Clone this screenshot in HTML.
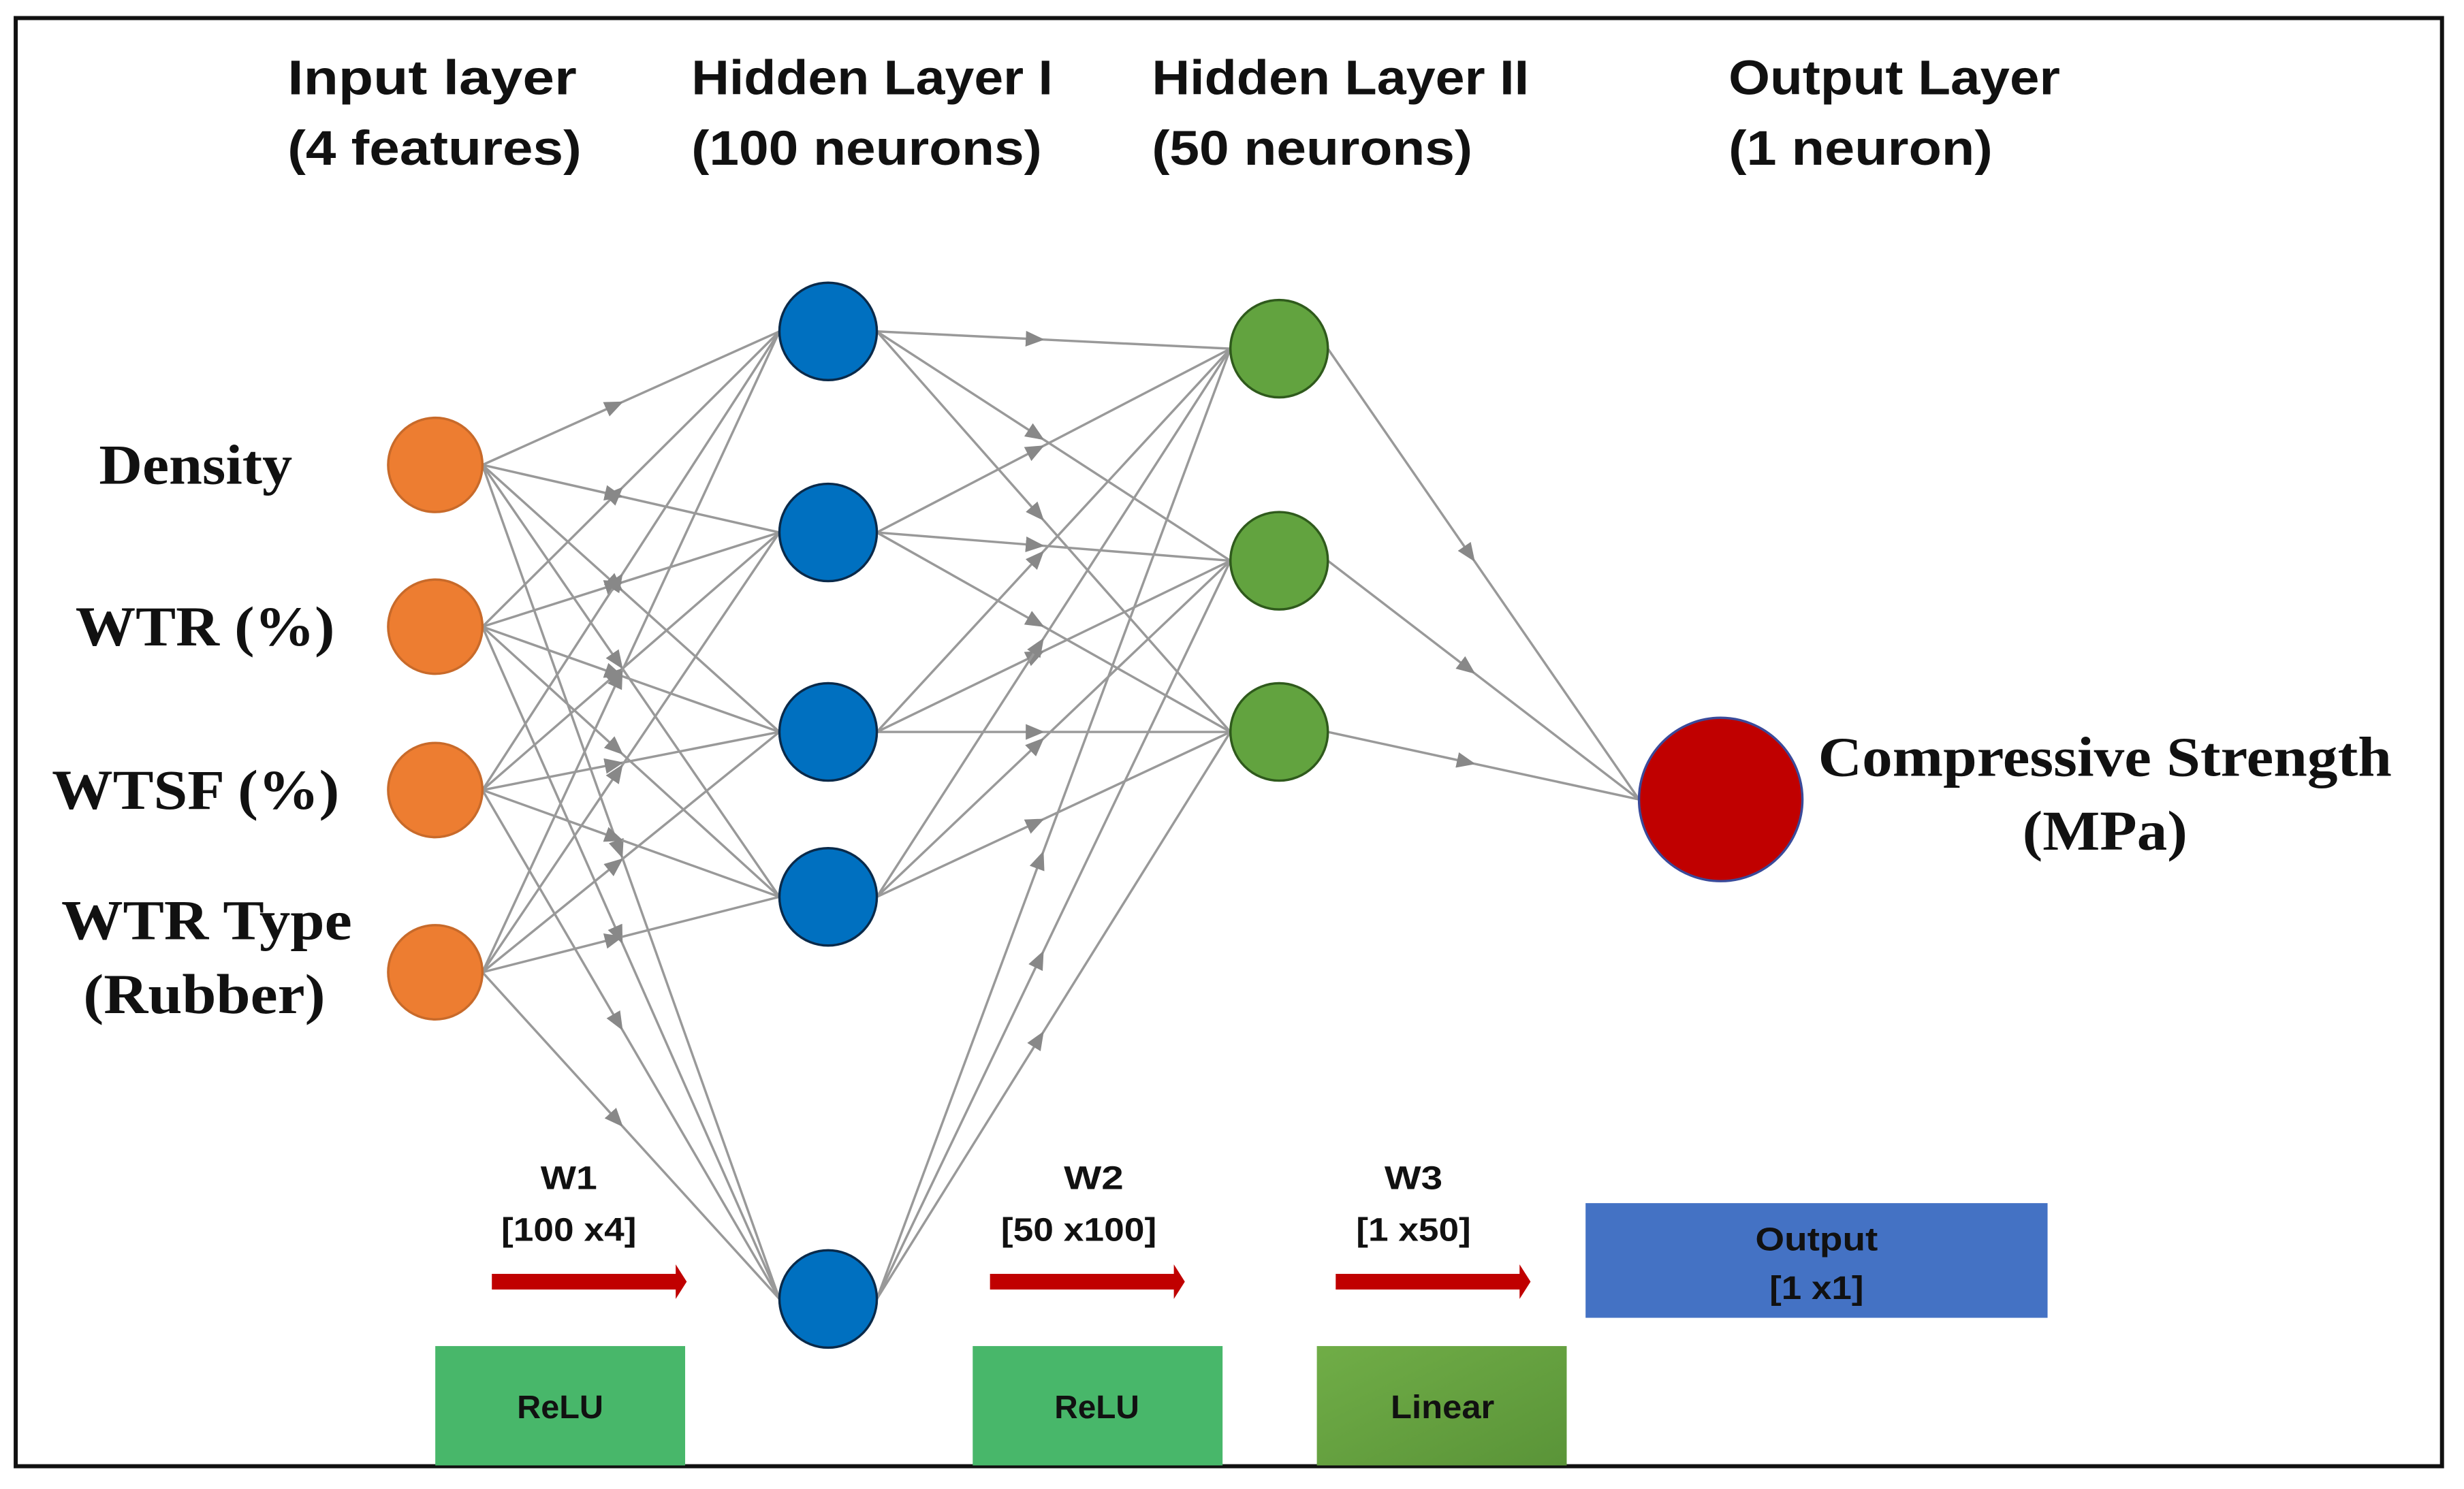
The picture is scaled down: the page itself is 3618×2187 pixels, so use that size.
<!DOCTYPE html>
<html><head><meta charset="utf-8"><style>
html,body{margin:0;padding:0;background:#fff;}
svg{display:block;}
.h{font-family:"Liberation Sans",sans-serif;font-weight:bold;font-size:31px;fill:#111;}
.t{font-family:"Liberation Serif",serif;font-weight:bold;font-size:36px;fill:#111;}
.s{font-family:"Liberation Sans",sans-serif;font-weight:bold;font-size:21px;fill:#111;}
</style></head><body>
<svg id="g" width="3618" height="2187" viewBox="0 0 1568 948" preserveAspectRatio="none" xmlns="http://www.w3.org/2000/svg">
<defs>
<marker id="a" markerWidth="12" markerHeight="10" refX="11" refY="5" orient="auto" markerUnits="userSpaceOnUse">
<path d="M0,0 L12,5 L0,10 z" fill="#888"/></marker>
<linearGradient id="lg" x1="0" y1="0" x2="1" y2="1"><stop offset="0" stop-color="#70ad47"/><stop offset="1" stop-color="#5a9438"/></linearGradient>
</defs>
<rect x="10" y="11.5" width="1544" height="922" fill="#fff" stroke="#111" stroke-width="2.6"/>
<g id="lines" stroke="#999" stroke-width="1.5" fill="none"></g>
<g id="nodes"></g>

<text class="h" x="183" y="60" textLength="184" lengthAdjust="spacingAndGlyphs">Input  layer</text>
<text class="h" x="183" y="105" textLength="187" lengthAdjust="spacingAndGlyphs">(4 features)</text>
<text class="h" x="440" y="60" textLength="230" lengthAdjust="spacingAndGlyphs">Hidden Layer I</text>
<text class="h" x="440" y="105" textLength="223" lengthAdjust="spacingAndGlyphs">(100 neurons)</text>
<text class="h" x="733" y="60" textLength="240" lengthAdjust="spacingAndGlyphs">Hidden Layer II</text>
<text class="h" x="733" y="105" textLength="204" lengthAdjust="spacingAndGlyphs">(50 neurons)</text>
<text class="h" x="1100" y="60" textLength="211" lengthAdjust="spacingAndGlyphs">Output Layer</text>
<text class="h" x="1100" y="105" textLength="168" lengthAdjust="spacingAndGlyphs">(1 neuron)</text>

<text class="t" x="63" y="308" textLength="123" lengthAdjust="spacingAndGlyphs">Density</text>
<text class="t" x="48" y="411" textLength="165" lengthAdjust="spacingAndGlyphs">WTR (%)</text>
<text class="t" x="33" y="515" textLength="183" lengthAdjust="spacingAndGlyphs">WTSF (%)</text>
<text class="t" x="39" y="598" textLength="185" lengthAdjust="spacingAndGlyphs">WTR Type</text>
<text class="t" x="53" y="645" textLength="154" lengthAdjust="spacingAndGlyphs">(Rubber)</text>
<text class="t" x="1157" y="494" textLength="365" lengthAdjust="spacingAndGlyphs">Compressive Strength</text>
<text class="t" x="1287" y="541" textLength="105" lengthAdjust="spacingAndGlyphs">(MPa)</text>

<text class="s" x="344" y="757" textLength="36" lengthAdjust="spacingAndGlyphs">W1</text>
<text class="s" x="319" y="790" textLength="86" lengthAdjust="spacingAndGlyphs">[100 x4]</text>
<text class="s" x="677" y="757" textLength="38" lengthAdjust="spacingAndGlyphs">W2</text>
<text class="s" x="637" y="790" textLength="99" lengthAdjust="spacingAndGlyphs">[50 x100]</text>
<text class="s" x="881" y="757" textLength="37" lengthAdjust="spacingAndGlyphs">W3</text>
<text class="s" x="863" y="790" textLength="73" lengthAdjust="spacingAndGlyphs">[1 x50]</text>

<path d="M313,811 H430 V805 L437,816 L430,827 V821 H313 z" fill="#c00000"/>
<path d="M630,811 H747 V805 L754,816 L747,827 V821 H630 z" fill="#c00000"/>
<path d="M850,811 H967 V805 L974,816 L967,827 V821 H850 z" fill="#c00000"/>

<rect x="1009" y="766" width="294" height="73" fill="#4472c4"/>
<text class="s" x="1117" y="796" textLength="78" lengthAdjust="spacingAndGlyphs">Output</text>
<text class="s" x="1126" y="827" textLength="60" lengthAdjust="spacingAndGlyphs">[1 x1]</text>

<rect x="277" y="857" width="159" height="76" fill="#48b76a"/>
<text class="s" x="329" y="903" textLength="55" lengthAdjust="spacingAndGlyphs">ReLU</text>
<rect x="619" y="857" width="159" height="76" fill="#48b76a"/>
<text class="s" x="671" y="903" textLength="54" lengthAdjust="spacingAndGlyphs">ReLU</text>
<rect x="838" y="857" width="159" height="76" fill="url(#lg)"/>
<text class="s" x="885" y="903" textLength="66" lengthAdjust="spacingAndGlyphs">Linear</text>
</svg>
<script>
var NS="http://www.w3.org/2000/svg";
var L0=[[277,296],[277,399],[277,503],[277,619]];
var L1=[[527,211],[527,339],[527,466],[527,571],[527,827]];
var L2=[[814,222],[814,357],[814,466]];
var L3=[[1095,509]];
var lines=document.getElementById('lines'),nodes=document.getElementById('nodes');
function conn(A,ra,B,rb){
 A.forEach(function(p){B.forEach(function(q){
  var x1=p[0]+ra,y1=p[1],x2=q[0]-rb,y2=q[1];
  var mx=x1+(x2-x1)*0.47,my=y1+(y2-y1)*0.47;
  var l=document.createElementNS(NS,'line');
  l.setAttribute('x1',x1);l.setAttribute('y1',y1);l.setAttribute('x2',mx);l.setAttribute('y2',my);
  l.setAttribute('marker-end','url(#a)');lines.appendChild(l);
  var l2=document.createElementNS(NS,'line');
  l2.setAttribute('x1',mx);l2.setAttribute('y1',my);l2.setAttribute('x2',x2);l2.setAttribute('y2',y2);
  lines.appendChild(l2);
 });});
}
conn(L0,30,L1,31);conn(L1,31,L2,31);conn(L2,31,L3,52);
function circ(P,r,fill,stroke){P.forEach(function(p){
 var c=document.createElementNS(NS,'circle');
 c.setAttribute('cx',p[0]);c.setAttribute('cy',p[1]);c.setAttribute('r',r);
 c.setAttribute('fill',fill);c.setAttribute('stroke',stroke);c.setAttribute('stroke-width','1.5');
 nodes.appendChild(c);});}
circ(L0,30,'#ed7d31','#c86a2a');
circ(L1,31,'#0070c0','#0a2a4a');
circ(L2,31,'#62a33f','#2f5a1c');
circ(L3,52,'#c00000','#3a4a9a');
</script>
</body></html>
